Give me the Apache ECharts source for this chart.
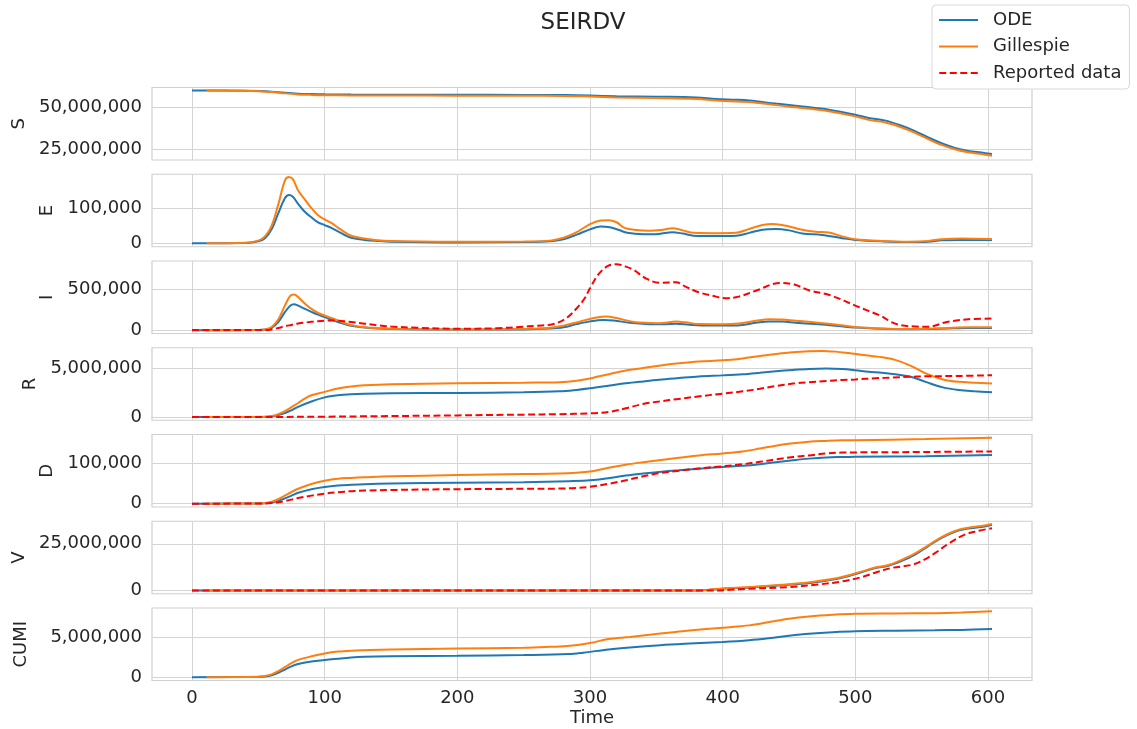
<!DOCTYPE html>
<html>
<head>
<meta charset="utf-8">
<script src="https://cdn.jsdelivr.net/npm/echarts@6/dist/echarts.min.js"></script>
<style>html,body{margin:0;padding:0;background:#fff}#c{width:1137px;height:729px}</style>
</head>
<body>
<div id="c"></div>
<script>
// ---------- data (time in days, values in persons) ----------
const xTicks = [0, 100, 200, 300, 400, 500, 600];

const S_ode = [[0,60.0e6],[40,59.9e6],[50,59.7e6],[60,59.3e6],[70,58.6e6],[80,58.1e6],[90,57.9e6],[100,57.75e6],[120,57.6e6],[150,57.5e6],[200,57.45e6],[250,57.4e6],[280,57.3e6],[300,57.0e6],[320,56.6e6],[350,56.3e6],[380,55.9e6],[395,55.0e6],[410,54.5e6],[420,54.0e6],[440,52.2e6],[460,50.5e6],[480,48.6e6],[500,45.6e6],[510,43.6e6],[522,42.2e6],[535,39.0e6],[545,35.8e6],[555,32.0e6],[565,28.6e6],[575,25.8e6],[585,24.0e6],[595,23.0e6],[603,22.2e6]];
const S_gil = [[11,60.0e6],[40,59.85e6],[50,59.6e6],[60,59.1e6],[70,58.3e6],[80,57.7e6],[90,57.4e6],[100,57.25e6],[120,57.1e6],[150,57.0e6],[200,56.95e6],[250,56.9e6],[280,56.8e6],[300,56.4e6],[320,55.9e6],[350,55.5e6],[380,55.0e6],[395,54.0e6],[410,53.4e6],[420,53.2e6],[440,51.3e6],[460,49.6e6],[480,47.6e6],[500,44.6e6],[510,42.5e6],[522,41.1e6],[535,38.0e6],[545,34.8e6],[555,31.0e6],[565,27.6e6],[575,25.0e6],[585,23.2e6],[595,22.1e6],[603,21.2e6]];
const S_ticks = [25e6, 50e6];

const E_ode = [[0,500],[40,1000],[50,6000],[55,15000],[60,40000],[65,85000],[70,128000],[73,137000],[76,132000],[80,112000],[85,90000],[90,74000],[95,60000],[100,52000],[105,44000],[110,34000],[115,24000],[120,16000],[130,10000],[140,7000],[150,5000],[200,3000],[250,4000],[270,6000],[280,12000],[290,25000],[300,40000],[308,48000],[315,46000],[322,38000],[328,30000],[340,26000],[352,27000],[362,32000],[370,28000],[378,22000],[395,21000],[410,22000],[420,30000],[430,39000],[440,41000],[450,37000],[460,28000],[475,24000],[490,15000],[500,10000],[520,6000],[540,4000],[555,5000],[565,9000],[580,10000],[603,10000]];
const E_gil = [[11,500],[40,2000],[50,8000],[55,20000],[60,50000],[65,110000],[70,178000],[73,188000],[76,182000],[80,150000],[85,125000],[90,100000],[95,80000],[100,68000],[105,58000],[110,45000],[115,32000],[120,22000],[130,14000],[140,9000],[150,7000],[200,4500],[250,5500],[270,8000],[280,16000],[290,32000],[300,55000],[308,65000],[314,66000],[320,60000],[326,44000],[335,38000],[345,36000],[355,39000],[362,43000],[370,37000],[378,30000],[395,29000],[410,30000],[420,41000],[430,52000],[438,55000],[448,50000],[458,40000],[470,33000],[480,31000],[490,20000],[500,12000],[520,7000],[540,5000],[555,7000],[565,12000],[580,14000],[603,12500]];
const E_ticks = [0, 100000];

const I_ode = [[0,500],[50,2000],[55,8000],[60,30000],[65,100000],[70,220000],[74,300000],[77,317000],[80,300000],[85,262000],[90,225000],[95,190000],[100,160000],[105,130000],[110,100000],[115,75000],[120,55000],[130,32000],[140,20000],[150,14000],[200,8000],[250,10000],[270,20000],[280,35000],[290,75000],[300,108000],[310,125000],[318,120000],[330,90000],[345,74000],[355,72000],[365,78000],[375,66000],[390,57000],[405,58000],[415,65000],[425,90000],[435,108000],[445,105000],[455,92000],[470,75000],[485,55000],[500,32000],[520,18000],[540,12000],[555,14000],[570,22000],[585,28000],[603,28000]];
const I_gil = [[11,500],[50,3000],[55,10000],[60,40000],[65,130000],[70,300000],[74,420000],[77,435000],[80,405000],[85,325000],[90,260000],[95,212000],[100,180000],[105,150000],[110,120000],[115,88000],[120,62000],[130,36000],[140,25000],[150,18000],[200,10000],[250,16000],[270,30000],[280,56000],[290,95000],[297,126000],[305,155000],[312,166000],[320,148000],[333,100000],[345,88000],[352,86000],[365,105000],[372,96000],[382,75000],[400,73000],[412,82000],[425,115000],[435,135000],[445,132000],[455,115000],[470,95000],[485,70000],[500,40000],[520,22000],[540,15000],[555,18000],[570,28000],[585,35000],[603,35000]];
const I_rep = [[0,2000],[55,3000],[60,10000],[65,28000],[70,48000],[75,65000],[80,82000],[90,102000],[100,116000],[105,119000],[110,115000],[120,100000],[130,80000],[140,60000],[150,45000],[170,30000],[200,18000],[230,24000],[247,40000],[260,55000],[272,73000],[282,146000],[290,268000],[296,390000],[300,512000],[307,695000],[315,796000],[320,805000],[327,776000],[333,735000],[342,634000],[352,580000],[365,585000],[372,532000],[382,463000],[392,422000],[402,390000],[412,410000],[426,488000],[443,577000],[454,557000],[465,488000],[481,427000],[503,280000],[514,210000],[520,170000],[527,100000],[535,60000],[545,45000],[555,42000],[569,101000],[585,134000],[603,142000]];
const I_ticks = [0, 500000];

const R_ode = [[0,0],[55,0.02e6],[60,0.08e6],[65,0.2e6],[70,0.4e6],[75,0.7e6],[80,1.05e6],[90,1.6e6],[100,2.03e6],[110,2.25e6],[120,2.36e6],[130,2.41e6],[150,2.45e6],[200,2.49e6],[250,2.55e6],[277,2.65e6],[290,2.8e6],[300,2.96e6],[315,3.25e6],[327,3.48e6],[340,3.68e6],[352,3.85e6],[367,4.02e6],[382,4.18e6],[400,4.3e6],[415,4.42e6],[428,4.57e6],[440,4.72e6],[453,4.86e6],[465,4.96e6],[478,5.0e6],[490,4.95e6],[500,4.83e6],[510,4.68e6],[520,4.58e6],[530,4.42e6],[541,4.18e6],[553,3.63e6],[566,3.06e6],[578,2.79e6],[590,2.66e6],[603,2.55e6]];
const R_gil = [[11,0],[55,0.03e6],[60,0.1e6],[65,0.3e6],[70,0.6e6],[75,1.03e6],[80,1.45e6],[85,1.9e6],[90,2.25e6],[100,2.6e6],[110,2.95e6],[120,3.15e6],[130,3.27e6],[150,3.38e6],[200,3.48e6],[250,3.55e6],[277,3.6e6],[290,3.75e6],[300,3.98e6],[315,4.45e6],[327,4.8e6],[340,5.05e6],[352,5.3e6],[367,5.55e6],[382,5.74e6],[400,5.85e6],[415,6.05e6],[428,6.3e6],[440,6.5e6],[453,6.68e6],[465,6.78e6],[475,6.82e6],[485,6.75e6],[495,6.6e6],[503,6.46e6],[512,6.3e6],[520,6.18e6],[530,5.9e6],[541,5.34e6],[553,4.5e6],[566,3.88e6],[578,3.63e6],[590,3.55e6],[603,3.47e6]];
const R_rep = [[0,0],[60,0.01e6],[100,0.04e6],[150,0.1e6],[200,0.17e6],[250,0.25e6],[277,0.3e6],[300,0.38e6],[315,0.55e6],[327,0.9e6],[340,1.35e6],[352,1.6e6],[365,1.84e6],[380,2.1e6],[400,2.42e6],[415,2.65e6],[428,2.92e6],[440,3.2e6],[453,3.45e6],[465,3.6e6],[478,3.72e6],[490,3.82e6],[500,3.88e6],[515,4.0e6],[528,4.08e6],[540,4.15e6],[553,4.2e6],[578,4.24e6],[603,4.32e6]];
const R_ticks = [0, 5e6];

const D_ode = [[0,0],[50,500],[55,1000],[60,3000],[65,7000],[70,13000],[75,20000],[80,27000],[90,36000],[100,41500],[110,45000],[120,47000],[130,48500],[150,50000],[200,52000],[250,53500],[284,56000],[300,58000],[315,64000],[327,70000],[340,75000],[352,79000],[367,83000],[382,87000],[400,91000],[415,94000],[428,98000],[440,103000],[453,108000],[465,112000],[478,115000],[490,116000],[500,116500],[553,118000],[603,121000]];
const D_gil = [[11,0],[50,500],[55,1500],[60,5000],[65,11000],[70,20000],[75,29000],[80,37000],[90,49000],[100,57000],[110,62000],[120,64000],[130,65500],[150,68000],[200,71000],[250,73500],[277,75000],[290,77000],[300,80000],[315,90000],[327,97000],[340,103000],[352,108000],[367,114000],[382,120000],[400,125000],[415,130000],[428,137000],[440,144000],[453,150000],[465,154000],[478,156000],[490,157500],[500,158000],[553,160500],[603,164000]];
const D_rep = [[0,0],[55,500],[60,1500],[65,3500],[70,6500],[75,10000],[80,14000],[90,20000],[100,25000],[110,28500],[120,31000],[130,32500],[150,34000],[200,36000],[250,37000],[277,37500],[290,39000],[300,42000],[315,50000],[327,58000],[340,68000],[352,76000],[367,82000],[382,87500],[400,93000],[415,98000],[428,104000],[440,110000],[453,116000],[465,120000],[478,125000],[490,127000],[500,127500],[553,128500],[603,130000]];
const D_ticks = [0, 100000];

const V_ode = [[0,0],[380,0],[390,0.3e6],[400,0.9e6],[420,1.6e6],[450,3.0e6],[470,4.4e6],[490,6.8e6],[505,9.8e6],[515,12.0e6],[525,13.2e6],[535,15.8e6],[545,19.2e6],[555,23.8e6],[565,28.2e6],[575,31.5e6],[585,33.2e6],[595,34.0e6],[603,35.2e6]];
const V_gil = [[11,0],[380,0],[390,0.4e6],[400,1.0e6],[420,1.8e6],[450,3.3e6],[470,4.8e6],[490,7.2e6],[505,10.2e6],[515,12.3e6],[525,13.6e6],[535,16.4e6],[545,19.8e6],[555,24.2e6],[565,28.6e6],[575,31.9e6],[585,33.6e6],[595,34.5e6],[603,35.7e6]];
const V_rep = [[0,0],[395,0],[405,0.3e6],[420,0.9e6],[450,1.8e6],[470,3.0e6],[490,4.8e6],[505,7.2e6],[515,9.5e6],[527,12.0e6],[543,13.8e6],[552,16.5e6],[560,20.0e6],[571,25.4e6],[582,29.8e6],[592,31.8e6],[603,33.4e6]];
const V_ticks = [0, 25e6];

const CUMI_ode = [[0,0],[50,0.05e6],[55,0.1e6],[60,0.25e6],[65,0.55e6],[70,0.95e6],[75,1.35e6],[80,1.65e6],[90,1.95e6],[100,2.13e6],[110,2.3e6],[120,2.45e6],[130,2.54e6],[150,2.6e6],[200,2.66e6],[250,2.75e6],[284,2.87e6],[295,3.05e6],[314,3.45e6],[330,3.7e6],[353,3.98e6],[375,4.18e6],[400,4.38e6],[420,4.6e6],[435,4.85e6],[450,5.15e6],[465,5.4e6],[483,5.6e6],[500,5.72e6],[530,5.78e6],[560,5.83e6],[580,5.88e6],[603,5.98e6]];
const CUMI_gil = [[11,0],[50,0.05e6],[55,0.15e6],[60,0.35e6],[65,0.75e6],[70,1.25e6],[75,1.75e6],[80,2.15e6],[90,2.6e6],[100,2.95e6],[110,3.18e6],[120,3.3e6],[130,3.36e6],[150,3.45e6],[200,3.57e6],[250,3.65e6],[270,3.77e6],[285,3.9e6],[300,4.25e6],[314,4.75e6],[330,5.0e6],[353,5.42e6],[375,5.8e6],[400,6.16e6],[420,6.44e6],[435,6.85e6],[450,7.27e6],[465,7.55e6],[483,7.76e6],[500,7.88e6],[530,7.92e6],[560,7.96e6],[580,8.05e6],[603,8.2e6]];
const CUMI_ticks = [0, 5e6];

// ---------- layout ----------
const panels = [
  {name:'S',    ode:S_ode,    gil:S_gil,    rep:null,  ticks:S_ticks,    min:18.6e6,  max:61.8e6, gap:122},
  {name:'E',    ode:E_ode,    gil:E_gil,    rep:null,  ticks:E_ticks,    min:-9.35e3, max:196e3,  gap:92},
  {name:'I',    ode:I_ode,    gil:I_gil,    rep:I_rep, ticks:I_ticks,    min:-40e3,   max:845e3,  gap:92},
  {name:'R',    ode:R_ode,    gil:R_gil,    rep:R_rep, ticks:R_ticks,    min:-0.33e6, max:7.15e6, gap:108},
  {name:'D',    ode:D_ode,    gil:D_gil,    rep:D_rep, ticks:D_ticks,    min:-8.3e3,  max:172e3,  gap:92},
  {name:'V',    ode:V_ode,    gil:V_gil,    rep:V_rep, ticks:V_ticks,    min:-1.8e6,  max:37.1e6, gap:122},
  {name:'CUMI', ode:CUMI_ode, gil:CUMI_gil, rep:null,  ticks:CUMI_ticks, min:-0.41e6, max:8.6e6,  gap:122}
];

const FONT = 'DejaVu Sans';
const TXT = '#262626';
const GRIDC = '#d4d4d4';
const fmt = v => String(Math.round(v)).replace(/\B(?=(\d{3})+(?!\d))/g, ',');

const grids = [], xAxes = [], yAxes = [], series = [];
panels.forEach((p, i) => {
  const last = i === panels.length - 1;
  grids.push({left:152, width:880, top:87.5 + i*86.75, height:72.5, show:true,
              borderColor:'#cfcfcf', borderWidth:1.2, backgroundColor:'transparent'});
  xAxes.push({type:'value', gridIndex:i, min:-30.15, max:633.15,
    axisLine:{show:false}, axisTick:{show:false, customValues:xTicks},
    axisLabel:{show:last, customValues:xTicks, fontFamily:FONT, fontSize:18, color:TXT, margin:9},
    splitLine:{show:true, lineStyle:{color:GRIDC, width:1}},
    name:last ? 'Time' : '', nameLocation:'middle', nameGap:29,
    nameTextStyle:{fontFamily:FONT, fontSize:18, color:TXT}});
  yAxes.push({type:'value', gridIndex:i, min:p.min, max:p.max,
    axisLine:{show:false}, axisTick:{show:false, customValues:p.ticks},
    axisLabel:{customValues:p.ticks, formatter:fmt, fontFamily:FONT, fontSize:18, color:TXT, margin:10},
    splitLine:{show:true, lineStyle:{color:GRIDC, width:1}},
    name:p.name, nameLocation:'middle', nameGap:p.gap, nameRotate:90,
    nameTextStyle:{fontFamily:FONT, fontSize:18, color:TXT}});
  const common = {type:'line', xAxisIndex:i, yAxisIndex:i, showSymbol:false, symbol:'none',
                  smooth:0.35, silent:true};
  series.push(Object.assign({}, common, {name:'ODE', data:p.ode, lineStyle:{color:'#1f77b4', width:2}, itemStyle:{color:'#1f77b4'}, z:2}));
  series.push(Object.assign({}, common, {name:'Gillespie', data:p.gil, lineStyle:{color:'#ff7f0e', width:2}, itemStyle:{color:'#ff7f0e'}, z:3}));
  if (p.rep) series.push(Object.assign({}, common, {name:'Reported data', data:p.rep, lineStyle:{color:'#ff0000', width:2, type:[7,3.5]}, itemStyle:{color:'#ff0000'}, z:4}));
});

const lineIcon = 'path://M0,0h39v2h-39z';
const dashIcon = 'path://M0,0h7v2h-7zM10.5,0h7v2h-7zM21,0h7v2h-7zM31.5,0h7v2h-7z';

const chart = echarts.init(document.getElementById('c'), null, {renderer:'canvas'});
chart.setOption({
  animation:false,
  backgroundColor:'#ffffff',
  title:{text:'SEIRDV', left:578, top:7, textAlign:'center',
         textStyle:{fontFamily:FONT, fontSize:23, fontWeight:'normal', color:TXT}},
  legend:{data:[{name:'ODE', icon:lineIcon},{name:'Gillespie', icon:lineIcon},{name:'Reported data', icon:dashIcon}],
          orient:'vertical', left:932, top:5,
          padding:[5,8,6,7], itemGap:6.5, itemWidth:39, itemHeight:2,
          backgroundColor:'#ffffff', borderColor:'#d8d8d8', borderWidth:1, borderRadius:4,
          textStyle:{fontFamily:FONT, fontSize:18, color:TXT, lineHeight:20, padding:[0,0,0,10]}},
  grid:grids, xAxis:xAxes, yAxis:yAxes, series:series
});
</script>
</body>
</html>
